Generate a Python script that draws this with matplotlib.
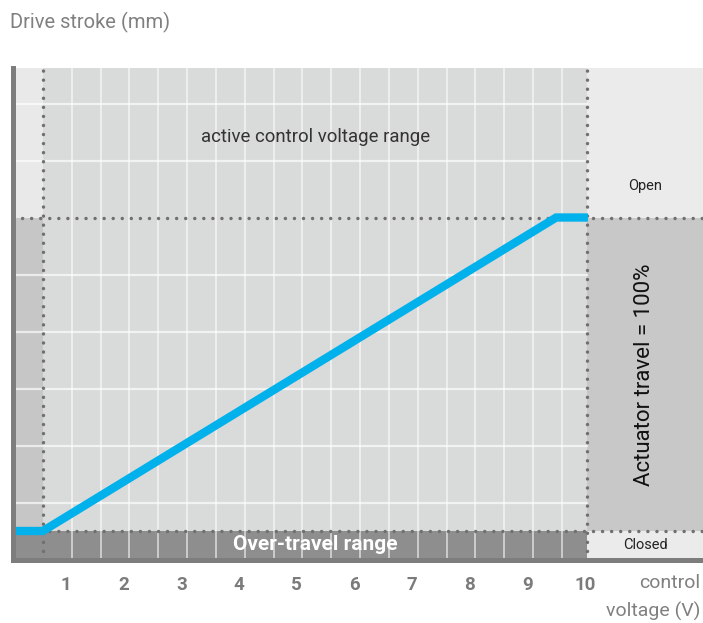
import numpy as np
import matplotlib.pyplot as plt

plt.rcParams['font.family'] = ['Roboto', 'DejaVu Sans']

# control voltage (V) vs drive stroke (grid units, closed = 0, open = 5.5)
voltage = [0.1, 0.6, 9.5, 10.05]
stroke = [0.0, 0.0, 5.5, 5.5]

tick_values = [1, 2, 3, 4, 5, 6, 7, 8, 9, 10]
tick_labels = ['1', '2', '3', '4', '5', '6', '7', '8', '9', '10']

v_start = 0.6      # start of active control range
v_end = 10.04      # end of active control range
s_closed = 0.0
s_open = 5.5

W, H = 703, 623
fig = plt.figure(figsize=(W / 100, H / 100), dpi=100)

# axes placed in pixels
left_px, right_px, top_px, bot_px = 12.5, 703, 68, 559.5
ax = fig.add_axes([left_px / W, (H - bot_px) / H,
                   (right_px - left_px) / W, (bot_px - top_px) / H])
xmin, xmax = 0.073, 12.046
ymin, ymax = -0.5, 8.123
ax.set_xlim(xmin, xmax)
ax.set_ylim(ymin, ymax)

# background regions
ax.axvspan(v_start, v_end, ymin=0, ymax=1, color='#d9dada', lw=0, zorder=0)
ax.fill_between([xmin, v_start], s_open, ymax, color='#e9e9e9', lw=0, zorder=0)
ax.fill_between([xmin, v_start], s_closed, s_open, color='#c6c6c6', lw=0, zorder=0)
ax.fill_between([xmin, v_end], ymin, s_closed, color='#8e8e8e', lw=0, zorder=0.5)
ax.fill_between([v_end, xmax], s_open, ymax, color='#ebebeb', lw=0, zorder=0)
ax.fill_between([v_end, xmax], s_closed, s_open, color='#c8c8c8', lw=0, zorder=0)
ax.fill_between([v_end, xmax], ymin, s_closed, color='#ebebeb', lw=0, zorder=0.5)

# grid
for gx in np.arange(1.1, 9.7, 0.5):
    ax.plot([gx, gx], [ymin, ymax], color='white', lw=1.4, alpha=0.55, zorder=1)
for gy in [0.5, 1.5, 2.5, 3.5, 4.5, 6.5, 7.5]:
    ax.plot([xmin, v_end], [gy, gy], color='white', lw=1.6, alpha=0.65, zorder=1)

# dotted guide lines
dot = dict(color='#707070', lw=2.5, linestyle=(0, (0.01, 2.6)),
           dash_capstyle='round', zorder=2)
ax.plot([v_start, v_start], [ymin, ymax], **dot)
ax.plot([v_end, v_end], [ymin, ymax], **dot)
ax.plot([xmin, xmax], [s_open, s_open], **dot)
ax.plot([xmin, xmax], [s_closed, s_closed], **dot)

# characteristic curve
ax.plot(voltage, stroke, color='#00b1eb', lw=6, solid_capstyle='butt',
        solid_joinstyle='miter', zorder=3)

# spines
for s in ['top', 'right']:
    ax.spines[s].set_visible(False)
for s in ['left', 'bottom']:
    ax.spines[s].set_color('#7d7d7d')
    ax.spines[s].set_linewidth(3.6)
    ax.spines[s].set_zorder(4)

ax.set_xticks(tick_values)
ax.set_xticklabels(tick_labels, fontsize=13.5, fontweight='bold', color='#7b7b7b')
ax.set_yticks([])
ax.tick_params(axis='x', length=0, pad=12)

# labels inside
ax.text(5.32, 6.91, 'active control voltage range', ha='center', va='center',
        fontsize=13.4, color='#333333')
ax.text(5.33, -0.24, 'Over-travel range', ha='center', va='center',
        fontsize=15, fontweight='bold', color='white', zorder=5)
ax.text(11.04, 6.05, 'Open', ha='center', va='center', fontsize=10.5, color='#222222')
ax.text(11.04, -0.24, 'Closed', ha='center', va='center', fontsize=10.5,
        color='#222222', zorder=5)
ax.text(11.04, 2.74, 'Actuator travel = 100%', ha='center', va='center',
        rotation=90, fontsize=16, color='#111111')

# axis titles
fig.text(10 / W, 1 - 22 / H, 'Drive stroke (mm)', ha='left', va='center',
         fontsize=14.5, color='#808080')
fig.text(700 / W, 1 - 583 / H, 'control', ha='right', va='center',
         fontsize=14, color='#808080')
fig.text(700 / W, 1 - 611 / H, 'voltage (V)', ha='right', va='center',
         fontsize=14, color='#808080')

fig.savefig('out.png', dpi=100)
